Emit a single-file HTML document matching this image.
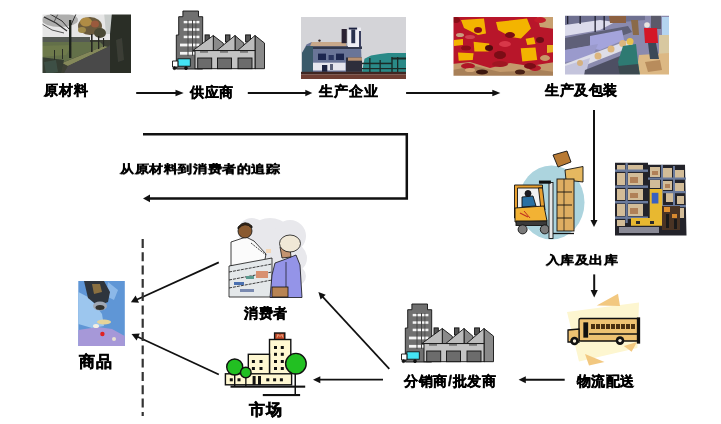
<!DOCTYPE html>
<html><head><meta charset="utf-8">
<style>
html,body{margin:0;padding:0;background:#fff;width:721px;height:424px;overflow:hidden;position:relative}
.t{position:absolute;font-family:"Liberation Sans",sans-serif;font-weight:bold;font-size:14px;line-height:14px;color:#000;white-space:nowrap;-webkit-text-stroke:0.45px #000;will-change:transform}
svg.lines{position:absolute;left:0;top:0}
</style></head><body>
<div class="t" id="t1" style="left:43.5px;top:83px;letter-spacing:1.1px">原材料</div>
<div class="t" id="t2" style="left:190px;top:85px;letter-spacing:0.5px">供应商</div>
<div class="t" id="t3" style="left:319px;top:84px;letter-spacing:0.9px">生产企业</div>
<div class="t" id="t4" style="left:545px;top:83px;letter-spacing:0.55px">生产及包装</div>
<div class="t" id="t5" style="left:120px;top:162px;letter-spacing:0.6px;transform:scaleY(0.82);transform-origin:0 0;top:163px">从原材料到消费者的追踪</div>
<div class="t" id="t6" style="left:546px;top:254px;letter-spacing:0.45px;transform:scaleY(0.82);transform-origin:0 0">入库及出库</div>
<div class="t" id="t7" style="left:576.5px;top:374px;letter-spacing:0.45px">物流配送</div>
<div class="t" id="t8" style="left:404px;top:374px;letter-spacing:0.7px">分销商/批发商</div>
<div class="t" id="t9" style="left:244px;top:306px;letter-spacing:0.6px">消费者</div>
<div class="t" id="t10" style="left:249px;top:401.5px;font-size:16px;line-height:16px;letter-spacing:0.5px">市场</div>
<div class="t" id="t11" style="left:79px;top:354px;font-size:16px;line-height:16px;letter-spacing:0.5px">商品</div>

<svg class="lines" width="721" height="424" viewBox="0 0 721 424">
<defs>
<filter id="bl" x="-5%" y="-5%" width="110%" height="110%"><feGaussianBlur stdDeviation="0.7"/></filter>
<filter id="bl2" x="-5%" y="-5%" width="110%" height="110%"><feGaussianBlur stdDeviation="0.45"/></filter>
<clipPath id="c1"><rect x="42.5" y="14.5" width="88.5" height="58.5"/></clipPath>
<clipPath id="c3"><rect x="301" y="17" width="105" height="62"/></clipPath>
<clipPath id="c4"><rect x="453.5" y="17" width="99.5" height="58.7"/></clipPath>
<clipPath id="c5"><rect x="565" y="15.7" width="104" height="58.8"/></clipPath>
</defs>
<!-- photo1: road -->
<g clip-path="url(#c1)"><g filter="url(#bl)">
<rect x="40" y="12" width="95" height="65" fill="#3c4036"/>
<rect x="40" y="12" width="72" height="28" fill="#e6e6e6"/>
<ellipse cx="60" cy="20" rx="18" ry="7" fill="#6a6a68" opacity="0.45"/>
<polyline points="44,17 56,23 67,31" stroke="#303030" stroke-width="1.2" fill="none"/>
<polyline points="50,14 62,21 69,29" stroke="#303030" stroke-width="1" fill="none"/>
<polyline points="76,14 71,25" stroke="#303030" stroke-width="1" fill="none"/>
<polyline points="42,24 52,30 64,33" stroke="#404040" stroke-width="0.9" fill="none"/>
<polyline points="58,14 54,22" stroke="#404040" stroke-width="0.8" fill="none"/>
<rect x="40" y="37" width="50" height="5" fill="#545a52"/>
<polygon points="40,42 100,42 104,46 64,62 40,62" fill="#64704a"/>
<polygon points="40,46 72,45 66,55 40,57" fill="#6e7a4c"/>
<polygon points="62,63 104,46 108,47 68,66" fill="#84885a"/>
<polygon points="62,77 68,66 108,47 112,43 120,50 118,77" fill="#4a4a4a"/>
<polygon points="40,57 64,60 60,77 40,77" fill="#343c32"/>
<polygon points="44,62 56,60 58,72 46,74" fill="#3e5044"/>
<rect x="110" y="12" width="25" height="65" fill="#2a2e28"/>
<polygon points="104,12 112,12 110,34 106,34" fill="#c8ccca"/>
<polygon points="116,40 122,38 124,60 118,62" fill="#3a3e34"/>
<ellipse cx="90" cy="26" rx="12" ry="9" fill="#6a5a3c"/>
<ellipse cx="86" cy="22" rx="6" ry="4.5" fill="#b08c44"/>
<ellipse cx="95" cy="24" rx="4" ry="3.5" fill="#9a5a3c"/>
<ellipse cx="82" cy="30" rx="4" ry="3" fill="#a08a4a"/>
<ellipse cx="100" cy="33" rx="6" ry="5" fill="#4a4834"/>
<rect x="69" y="20" width="2.4" height="38" fill="#1e221e"/>
<rect x="91" y="34" width="1.6" height="18" fill="#262622"/>
<rect x="98" y="36" width="1.3" height="13" fill="#262622"/>
<rect x="103" y="38" width="1.1" height="9" fill="#262622"/>
<rect x="54" y="50" width="1" height="10" fill="#2a2e28"/>
<rect x="62" y="49" width="1" height="10" fill="#2a2e28"/>
</g></g>
<!-- photo3: production -->
<g clip-path="url(#c3)"><g filter="url(#bl2)">
<rect x="300" y="16" width="107" height="64" fill="#d4d4d8"/>
<polygon points="302,53 306.5,44.5 311.7,41.9 346,41.9 347,46.4 361,46.4 362,72 302,72" fill="#6a7498"/>
<polygon points="311.7,41.9 345.5,41.9 346.8,46.4 310,46.4" fill="#c8a88a"/>
<rect x="306" y="46.4" width="56" height="2.6" fill="#30384e"/>
<polygon points="302,53 306.5,46 313,46 313,73 302,73" fill="#3a5a6a"/>
<rect x="318" y="53.6" width="8" height="6.4" fill="#1e2850"/>
<rect x="328.6" y="55" width="5.2" height="5" fill="#2a3660"/>
<rect x="336" y="53.6" width="8" height="6.4" fill="#1e2850"/>
<rect x="313" y="62.7" width="32.5" height="7.8" fill="#e6e6ee"/>
<rect x="322" y="65" width="5.3" height="6.8" fill="#1e2440"/>
<rect x="330" y="64" width="3" height="6" fill="#5a6078"/>
<circle cx="319.5" cy="40.6" r="1.2" fill="#302020"/>
<rect x="341.6" y="29" width="5.2" height="14.2" fill="#2c2430"/>
<rect x="348" y="27.6" width="13" height="19.4" fill="#eeeef4"/>
<rect x="348.7" y="27.6" width="8.4" height="1.9" fill="#1e2440"/>
<rect x="351.3" y="29.5" width="3.9" height="13.7" fill="#2a3050"/>
<rect x="359" y="31" width="2" height="16" fill="#3a4060"/>
<rect x="346" y="57.5" width="16" height="14.3" fill="#2e2e3a"/>
<rect x="348" y="57.5" width="14" height="3.2" fill="#b89070"/>
<polygon points="362,72 364.5,58.8 371,55.5 380,54 388,53 406,53 406,72" fill="#2a8a88"/>
<rect x="362" y="62.7" width="30" height="1.5" fill="#1a2a28"/>
<rect x="391.8" y="57.5" width="14.2" height="2" fill="#1a2a28"/>
<rect x="362" y="68" width="44" height="1.2" fill="#1a2a28"/>
<rect x="369.2" y="58" width="1.3" height="14" fill="#1a2a28"/>
<rect x="379.5" y="60" width="1.3" height="12" fill="#1a2a28"/>
<rect x="391.3" y="57" width="1.4" height="15" fill="#1a2a28"/>
<rect x="397" y="57" width="1.3" height="15" fill="#1a2a28"/>
<rect x="300" y="71.8" width="107" height="2.6" fill="#402820"/>
<rect x="300" y="74.4" width="107" height="6" fill="#6e3e30"/>
</g></g>
<!-- photo4: capsules -->
<g clip-path="url(#c4)"><g filter="url(#bl)">
<rect x="452" y="16" width="103" height="61" fill="#b8142a"/>
<polygon points="452,64 470,62 490,68 510,63 530,66 555,62 555,77 452,77" fill="#c49a6c"/>
<polygon points="452,70 475,66 500,72 540,70 555,72 555,77 452,77" fill="#a88058"/>
<ellipse cx="468" cy="66" rx="7" ry="3" fill="#b01828"/>
<ellipse cx="500" cy="64" rx="8" ry="3" fill="#a01424"/>
<ellipse cx="535" cy="68" rx="6" ry="3" fill="#b41a2a"/>
<ellipse cx="482" cy="72" rx="6" ry="2.5" fill="#3a1810"/>
<ellipse cx="520" cy="72" rx="5" ry="2.5" fill="#4a2014"/>
<polygon points="461,20 484,18.6 486,33.5 478,35 464,28" fill="#f3b400"/>
<polygon points="496,22 527,18.6 531,28.5 521,38.4 511,37 498,30" fill="#f3b400"/>
<polygon points="473.6,41.7 489.3,43.4 488.5,51.6 474.4,51.6" fill="#f3b400"/>
<polygon points="458,52.5 473.6,53.3 472.8,60 458.7,60.7" fill="#f3b400"/>
<polygon points="520.7,48.3 535.5,47.5 537.2,60 522.3,61.5" fill="#f3b400"/>
<polygon points="525.6,38.8 534,37.2 535.5,44 527.3,45" fill="#f3b400"/>
<polygon points="454,40 463,39 463,45 454,46" fill="#f3b400"/>
<polygon points="537,16 555,16 555,29 540,27" fill="#c8a070"/>
<polygon points="547,45 555,45 555,52 547,53" fill="#e8b020"/>
<ellipse cx="489" cy="48" rx="4" ry="3" fill="#501010"/>
<ellipse cx="540" cy="40" rx="4" ry="3" fill="#6a1018"/>
<ellipse cx="470" cy="37" rx="5" ry="2" fill="#d04050"/>
<ellipse cx="505" cy="44" rx="6" ry="3" fill="#d83848"/>
<ellipse cx="460" cy="35" rx="4" ry="2" fill="#c8a080"/>
<ellipse cx="545" cy="58" rx="5" ry="3" fill="#c89868"/>
<ellipse cx="510" cy="35" rx="5" ry="3" fill="#7a0c14"/>
<ellipse cx="478" cy="30" rx="4" ry="3" fill="#8a1018"/>
<ellipse cx="500" cy="55" rx="6" ry="4" fill="#7a0c14"/>
<ellipse cx="466" cy="48" rx="5" ry="2.5" fill="#8a1018"/>
<ellipse cx="540" cy="20" rx="6" ry="3" fill="#c41a2c"/>
<ellipse cx="456" cy="20" rx="4" ry="3" fill="#8a1018"/>
<ellipse cx="530" cy="66" rx="6" ry="3" fill="#7a1014"/>
<ellipse cx="470" cy="70" rx="5" ry="2" fill="#d4a878"/>

</g></g>
<!-- photo5: packaging -->
<g clip-path="url(#c5)"><g filter="url(#bl)">
<rect x="563" y="14" width="108" height="62" fill="#8a8aae"/>
<polygon points="563,14 645,14 645,20 600,24 563,28" fill="#6e7090"/>
<polygon points="565,25 600,20 615,22 600,30 565,36" fill="#dcdcec"/>
<polygon points="565,38 590,33 628,26 632,32 600,44 565,50" fill="#5e6078"/>
<polygon points="590,36 622,30 624,40 600,50 590,48" fill="#a4a4dc"/>
<polygon points="565,50 598,44 592,58 565,62" fill="#9a9acc"/>
<polygon points="565,64 629,40 634,46 568,72 565,72" fill="#dedee8"/>
<polygon points="565,66 590,58 585,76 565,76" fill="#c4c4dc"/>
<polygon points="585,70 620,56 626,76 584,76" fill="#4e5064"/>
<circle cx="622.7" cy="43.5" r="3.5" fill="#dcb67e"/>
<circle cx="611" cy="49" r="3.5" fill="#dcb67e"/>
<circle cx="598" cy="56" r="3.5" fill="#dcb67e"/>
<circle cx="580" cy="63" r="3" fill="#d4b080"/>
<polygon points="609,16 626,16 626,23 610,23" fill="#8c6040"/>
<polygon points="631,20 638,20 639,35 633,35" fill="#8a6a48"/>
<rect x="567" y="16" width="1.3" height="8" fill="#202030"/>
<rect x="579.5" y="16" width="1.3" height="8" fill="#202030"/>
<rect x="594.5" y="16" width="1.3" height="16" fill="#202030"/>
<rect x="603.5" y="16" width="1.3" height="14" fill="#202030"/>
<rect x="651" y="15" width="10" height="14" fill="#5a5a6a"/>
<rect x="659" y="35" width="10" height="20" fill="#d8c8a0"/>
<rect x="662" y="17" width="7" height="18" fill="#b4d4f0"/>
<polygon points="639,55 669,53 669,76 636,76" fill="#dcb884"/>
<polygon points="645,62 660,60 662,70 648,72" fill="#b88c5c"/>
<polygon points="623,46 636,44 638,62 640,76 621,76 618,62" fill="#2e7a72"/>
<polygon points="618,66 638,64 640,76 620,76" fill="#3a4a50"/>
<circle cx="630" cy="41.5" r="3.5" fill="#e6c050"/>
<polygon points="644,28 657,28 658,43 645,43" fill="#d41626"/>
<circle cx="647" cy="25" r="2.8" fill="#e8e4e0"/>
<polygon points="648,43 656,43 659,59 650,59" fill="#3a4a58"/>
</g></g>
</svg>

<svg class="lines" width="721" height="424" viewBox="0 0 721 424">
<defs>
<g id="fac" stroke="#111" stroke-width="0.9">
<polygon points="182.9,11 198.5,11 198.5,16.7 202.7,16.7 202.7,69 176.3,69 176.3,35 178.7,35 178.7,16.7 182.9,16.7" fill="#707070"/>
<g fill="#f4f4f4" stroke="none">
<rect x="183.7" y="20.9" width="15.7" height="2.4"/>
<rect x="183.7" y="28.3" width="15.7" height="2.5"/>
<rect x="183.7" y="35.7" width="15.7" height="2.5"/>
<rect x="180" y="43.6" width="19.4" height="2.8"/>
<rect x="180" y="51.9" width="19.4" height="2.8"/>
</g>
<g fill="#444" stroke="none">
<rect x="187.5" y="20" width="1" height="36"/><rect x="192" y="20" width="1" height="36"/><rect x="195.5" y="20" width="0.8" height="36"/>
</g>
<rect x="205" y="34.9" width="4.3" height="7" fill="#555"/>
<rect x="225.5" y="34.9" width="4.5" height="7" fill="#555"/>
<rect x="245.6" y="34.9" width="4.9" height="7" fill="#555"/>
<polygon points="213.3,35.5 223.3,43.3 223.3,50.6 213.3,50.6" fill="#8a8a8a"/>
<polygon points="235,35.5 244,43.3 244,50.6 235,50.6" fill="#8a8a8a"/>
<polygon points="255,35.5 264.5,43.1 264.5,68.7 255,68.7" fill="#8a8a8a"/>
<polygon points="192.8,50.6 213.3,35.5 213.3,50.6" fill="#bcbcbc"/>
<polygon points="216.7,50.6 235,35.5 235,50.6" fill="#bcbcbc"/>
<polygon points="237.5,50.6 255,35.5 255,50.6" fill="#bcbcbc"/>
<rect x="195" y="50.6" width="60" height="18.1" fill="#c4c4c4"/>
<rect x="197.7" y="58" width="14" height="10.7" fill="#6c6c6c"/>
<rect x="217.5" y="58" width="14" height="10.7" fill="#6c6c6c"/>
<rect x="238" y="58" width="14" height="10.7" fill="#6c6c6c"/>
<g fill="#333" stroke="none"><rect x="200" y="51.5" width="8" height="0.9"/><rect x="220" y="51.5" width="8" height="0.9"/><rect x="240" y="51.5" width="8" height="0.9"/></g>
<rect x="177.9" y="58.8" width="12.4" height="7.4" fill="#44e4f4"/>
<polygon points="172.5,61 177.9,61 177.9,67 172.5,67" fill="#fff"/>
<circle cx="174.5" cy="68.2" r="1.4" fill="#111"/><circle cx="186" cy="68.2" r="1.4" fill="#111"/>
</g>
</defs>
<use href="#fac"/>
<use href="#fac" x="229" y="293"/>

<!-- forklift -->
<ellipse cx="551.5" cy="202.5" rx="33" ry="37" fill="#acd4de"/>
<g stroke="#111" stroke-width="0.9">
<rect x="516" y="187" width="24" height="20" fill="#f2f2f2" stroke="none"/>
<polygon points="522,197 533,196 536,206 522,207" fill="#2a70a2"/>
<circle cx="528" cy="193.5" r="3" fill="#1a1a22"/>
<polygon points="514.5,185 542.5,185 542.5,188 517.5,188 517.5,218 514.5,218" fill="#e8a030"/>
<polygon points="538.5,188 542.5,188 545,210 541,210" fill="#e8a030"/>
<polygon points="515,208 544,206 547,221 515,222" fill="#f2b234"/>
<line x1="520" y1="213" x2="528" y2="217" stroke="#c03020" stroke-width="1.2"/>
<line x1="524" y1="211" x2="530" y2="218" stroke="#c03020" stroke-width="1"/>
<rect x="516" y="221" width="31" height="4.5" fill="#3a3a3a"/>
<circle cx="522.6" cy="229.4" r="4.5" fill="#7a7a7a"/>
<circle cx="544.8" cy="229.4" r="4.5" fill="#7a7a7a"/>
<rect x="549" y="182.5" width="4" height="56" fill="#e8e8e8"/>
<rect x="539.4" y="181" width="11" height="2.2" fill="#111"/>
<polygon points="553,155 567,151 571,162 558,167" fill="#b87a34"/>
<polygon points="565,170 583,166.5 583,182 566,180" fill="#e6b860"/>
<rect x="557" y="179" width="17" height="52" fill="#deae62"/>
<line x1="557" y1="192" x2="572" y2="192"/><line x1="557" y1="205" x2="572" y2="205"/><line x1="557" y1="218" x2="572" y2="218"/>
<line x1="564" y1="179" x2="564" y2="231" stroke-width="0.7"/>
<line x1="553" y1="233.5" x2="574" y2="233.5" stroke-width="1.3"/>
</g>

<!-- warehouse -->
<g>
<polygon points="615,162.8 648,162.8 648,164.8 685,164.8 686.5,235.5 615,235.5" fill="#23232a"/>
<g fill="#d2bc98">
<rect x="617" y="165" width="8" height="5"/><rect x="628" y="165" width="15" height="5"/>
<rect x="617" y="173" width="8" height="12"/><rect x="628" y="173" width="15" height="12"/>
<rect x="617" y="189" width="8" height="11"/><rect x="628" y="189" width="15" height="11"/>
<rect x="617" y="204" width="8" height="12"/><rect x="628" y="204" width="15" height="12"/>
<rect x="617" y="220" width="8" height="6"/>
<rect x="650" y="167" width="10" height="10"/><rect x="663" y="168" width="9" height="10"/><rect x="675" y="170" width="9" height="9"/>
<rect x="650" y="180" width="10" height="8"/><rect x="663" y="181" width="9" height="9"/><rect x="675" y="183" width="9" height="9"/>
<rect x="666" y="193" width="8" height="9"/><rect x="677" y="196" width="7" height="8"/>
<rect x="676" y="208" width="8" height="10"/>
</g>
<g fill="#b08058">
<rect x="630" y="177" width="8" height="6"/><rect x="630" y="193" width="8" height="5"/><rect x="630" y="208" width="8" height="6"/>
<rect x="652" y="171" width="6" height="4"/><rect x="665" y="184" width="5" height="4"/>
</g>
<g fill="#6a7a9c">
<rect x="615" y="169.5" width="33" height="2.4"/><rect x="615" y="185.5" width="33" height="2.4"/><rect x="615" y="201" width="33" height="2.4"/><rect x="615" y="216.5" width="33" height="2.4"/>
<rect x="625.5" y="163" width="2.2" height="60"/>
<rect x="648" y="177.5" width="38" height="2.2"/><rect x="660" y="191" width="26" height="2.2"/><rect x="662" y="205" width="24" height="2.2"/>
<rect x="661" y="165" width="2" height="40"/><rect x="673" y="166" width="2" height="45"/>
</g>
<polygon points="649.7,189 662.3,189 662.3,216 662.3,225.7 631,225.7 631,218 649.7,218" fill="#e8b830"/>
<rect x="651.7" y="192.8" width="6.7" height="10.7" fill="#3a60c0"/>
<polygon points="662,206 680,206 680,230 662,230" fill="#4a3424"/><rect x="664" y="207" width="6" height="5" fill="#e09030"/><rect x="672" y="214" width="5" height="4" fill="#d88a30"/>
<rect x="666" y="214" width="3" height="14" fill="#1a1a1a"/><rect x="674" y="219" width="3" height="10" fill="#1a1a1a"/>
<rect x="619" y="227" width="40" height="6" fill="#8a8a96"/>
<rect x="636" y="221" width="4" height="3" fill="#2a2a2a"/><rect x="650" y="221" width="4" height="3" fill="#2a2a2a"/>
</g>

<!-- bus -->
<polygon points="567,312 639,302.5 637.4,348 579,361.5" fill="#fdf6d0"/>
<polygon points="596.7,305.4 618,293.8 620,306" fill="#f2c880"/>
<polygon points="585,354 604.5,362 589,365.4" fill="#f2c880"/>
<polygon points="623.8,346 637,342 631.6,351.8" fill="#f2c880"/>
<g stroke="#111" stroke-width="1.3">
<rect x="579" y="318.5" width="59" height="22.5" rx="1.5" fill="#eec272"/>
<polygon points="568,330 579,329 579,342 568,342" fill="#eec272"/>
<rect x="584" y="323" width="3.5" height="14" fill="#111"/>
<line x1="589" y1="334" x2="637" y2="334"/>
<rect x="637.5" y="318" width="2" height="25" fill="#111"/>
</g>
<g fill="#4a3010">
<rect x="591" y="324" width="4" height="5"/><rect x="596" y="324" width="4" height="5"/><rect x="601" y="324" width="4" height="5"/><rect x="606" y="324" width="4" height="5"/><rect x="611" y="324" width="4" height="5"/><rect x="616" y="324" width="4" height="5"/><rect x="621" y="324" width="4" height="5"/><rect x="626" y="324" width="4" height="5"/><rect x="631" y="324" width="4" height="5"/>
</g>
<circle cx="574.5" cy="341" r="4.3" fill="#111"/><circle cx="574.5" cy="341" r="1.7" fill="#f4ecd8"/>
<circle cx="620" cy="340.6" r="4.3" fill="#111"/><circle cx="620" cy="340.6" r="1.7" fill="#f4ecd8"/>

<!-- consumer -->
<g fill="#e8e8ec">
<circle cx="270" cy="244" r="26"/><circle cx="292" cy="258" r="15"/><circle cx="290" cy="236" r="16"/><circle cx="252" cy="232" r="14"/><circle cx="296" cy="276" r="10"/>
</g>
<g stroke="#111" stroke-width="0.8">
<polygon points="231,242 246,237 254,241 266,254 264,265 231,266" fill="#fbfbfb"/>
<line x1="251" y1="243" x2="266" y2="255" stroke-dasharray="2 1"/>
<circle cx="245" cy="231" r="7" fill="#8a5a30"/>
<path d="M238,229 Q245,221 252,228 L252,226 Q245,219 238,227 Z" fill="#3a2816"/>
<rect x="266" y="249" width="5" height="4" fill="#f4d8b8" stroke="none"/>
<polygon points="229,266 272,258 272,297 229,297" fill="#e4e8ea"/>
<line x1="229" y1="272" x2="272" y2="264" stroke-dasharray="3 1"/><line x1="229" y1="280" x2="272" y2="272" stroke-dasharray="3 1"/><line x1="229" y1="288" x2="272" y2="280" stroke-dasharray="3 1"/>
</g>
<g stroke="none">
<rect x="256" y="271" width="12" height="7" fill="#d89070"/>
<rect x="234" y="282" width="10" height="3" fill="#4a70b0"/><rect x="246" y="276" width="8" height="3" fill="#5a9a90"/><rect x="240" y="289" width="14" height="3" fill="#7a8ab0"/>
</g>
<g stroke="#111" stroke-width="0.8">
<polygon points="275,263 286,259 296,255 300,265 302,297.5 270,297.5 272,275" fill="#9494e8"/>
<line x1="286" y1="262" x2="286" y2="297" stroke-width="0.7"/>
<polygon points="280,247 290,248 291,257 282,258" fill="#c49470"/>
<ellipse cx="290" cy="243.5" rx="10.5" ry="8.5" fill="#f0e8d6"/>
<rect x="272" y="287" width="16" height="10" fill="#b88454"/>
</g>

<!-- market -->
<g stroke="#111" stroke-width="1.4">
<rect x="274.6" y="333" width="10.2" height="7" fill="#c44a2a"/>
<rect x="269.5" y="339.5" width="21.3" height="38" fill="#fff8d2"/>
<rect x="248.3" y="354.3" width="21.2" height="23" fill="#fff8d2"/>
<rect x="225.4" y="373.8" width="66.2" height="11" fill="#fff8d2"/>
</g>
<g fill="#111">
<rect x="274.0" y="346.0" width="3" height="3"/>
<rect x="280.8" y="346.0" width="3" height="3"/>
<rect x="274.0" y="352.8" width="3" height="3"/>
<rect x="280.8" y="352.8" width="3" height="3"/>
<rect x="274.0" y="360.0" width="3" height="3"/>
<rect x="280.8" y="360.0" width="3" height="3"/>
<rect x="274.0" y="367.0" width="3" height="3"/>
<rect x="280.8" y="367.0" width="3" height="3"/>
<rect x="251.9" y="360.0" width="3" height="3"/>
<rect x="259.5" y="360.0" width="3" height="3"/>
<rect x="251.9" y="367.0" width="3" height="3"/>
<rect x="259.5" y="367.0" width="3" height="3"/>
<rect x="229.8" y="378.3" width="3" height="3"/>
<rect x="237.5" y="378.3" width="3" height="3"/>
<rect x="266.3" y="378.3" width="3" height="3"/>
<rect x="273.1" y="378.3" width="3" height="3"/>
<rect x="279.9" y="378.3" width="3" height="3"/>
<rect x="252.6" y="376" width="3" height="9"/><rect x="258" y="376" width="3" height="9"/>
<rect x="230.5" y="385.6" width="74.7" height="2.1"/>
<rect x="262.8" y="394" width="37.3" height="2.1"/>
<rect x="234" y="372" width="1.4" height="14"/><rect x="245.2" y="376" width="1.3" height="10"/><rect x="294.5" y="372" width="1.5" height="23"/>
</g>
<path d="M277,337.5 L278,334.5 L280,336.5 L282,334.5 L283,337.5" stroke="#f0c0a0" stroke-width="0.8" fill="none"/>
<g fill="#22c022" stroke="#111" stroke-width="1.4">
<circle cx="234.7" cy="367" r="8"/><circle cx="245.8" cy="372.5" r="5.3"/><circle cx="295.9" cy="363.7" r="10.3"/>
</g>

<!-- product -->
<g filter="url(#bl)">
<rect x="78.3" y="281" width="46.5" height="65" fill="#5e96d6"/>
<polygon points="78.3,292 90,298 102,314 104,326 92,328 78.3,324" fill="#9cc6ee"/>
<polygon points="108,282 118,290 114,300 106,296" fill="#8cb8e8"/>
<polygon points="78.3,330 98,327 112,329 124.8,336 124.8,346 78.3,346" fill="#a698d8"/>
<polygon points="84,281 104,281 110,292 108,302 98,306 88,298" fill="#2e343c"/>
<polygon points="92,284 100,284 102,292 94,294" fill="#8a7040"/>
<ellipse cx="100" cy="306" rx="7" ry="4.5" fill="#a0a8b4"/>
<ellipse cx="100" cy="307.5" rx="4.5" ry="2.5" fill="#30302e"/>
<ellipse cx="104" cy="322" rx="7" ry="2.5" fill="#e6d49a"/>
<ellipse cx="96" cy="326" rx="3" ry="2" fill="#f4f0e4"/>
<circle cx="102.4" cy="334" r="2.2" fill="#e02020"/>
<circle cx="114" cy="339" r="2" fill="#e8e0d0"/>
</g>
</svg>
<svg class="lines" width="721" height="424" viewBox="0 0 721 424">
<g stroke="#111" stroke-width="2" fill="none">
<line x1="136.2" y1="93" x2="177" y2="93" stroke-width="1.9"/>
<line x1="247.8" y1="93" x2="307" y2="93" stroke-width="1.9"/>
<line x1="406.1" y1="93" x2="494" y2="93" stroke-width="1.9"/>
<polyline points="143,134.2 406.8,134.2 406.8,198.4 149,198.4" stroke-width="2.5"/>
<line x1="594" y1="110" x2="594" y2="221"/>
<line x1="594.2" y1="274.4" x2="594.2" y2="291"/>
<line x1="564.7" y1="379.8" x2="525" y2="379.8" stroke-width="1.9"/>
<line x1="383" y1="379.7" x2="320" y2="379.7" stroke-width="1.8"/>
<line x1="389.3" y1="368.8" x2="322.5" y2="296.7" stroke-width="1.7"/>
<line x1="218.8" y1="262.4" x2="136" y2="300" stroke-width="1.8"/>
<line x1="218.8" y1="374.5" x2="137" y2="336.5" stroke-width="1.8"/>
<line x1="142.7" y1="239" x2="142.7" y2="416" stroke-dasharray="8.9 4.4" stroke-width="2.2" stroke="#333"/>
</g>
<g fill="#111">
<polygon points="183.7,93 175.5,89.7 175.5,96.3"/>
<polygon points="312.3,93 305.3,89.7 305.3,96.3"/>
<polygon points="500.4,93 492.3,89.7 492.3,96.3"/>
<polygon points="143,198.4 150,194.6 150,202.2"/>
<polygon points="594,227 590.5,220 597.5,220"/>
<polygon points="594.2,297.5 590.6,290 597.8,290"/>
<polygon points="518.6,379.8 525.8,376.3 525.8,383.3"/>
<polygon points="313,379.7 320.3,376.2 320.3,383.2"/>
<polygon points="130.9,302.2 135.6,295.6 139,302.8"/>
<polygon points="131.5,334 139.8,333.6 136.6,340.6"/>
<polygon points="318.4,292.0 325.7,294.7 320.6,299.5"/>
</g>
</svg>
</body></html>
